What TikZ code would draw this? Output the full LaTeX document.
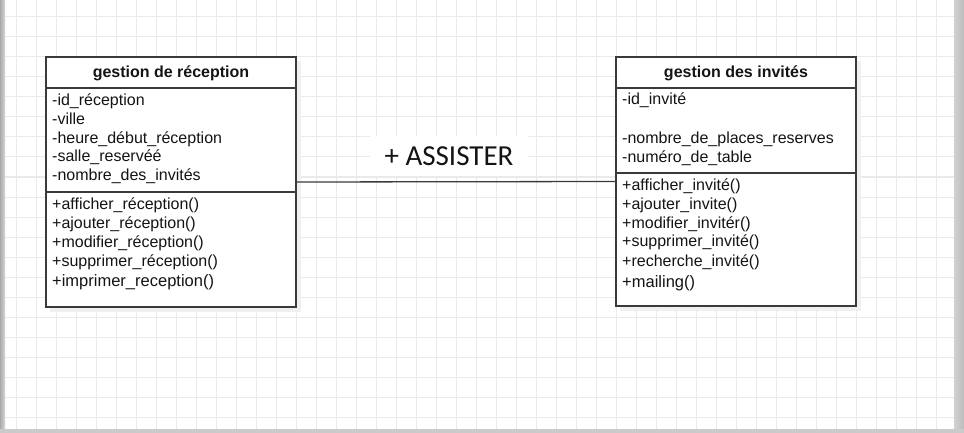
\documentclass[tikz,border=0pt]{standalone}
\usepackage{fontspec}
\setmainfont{Liberation Sans}
\newfontfamily\labfont{Carlito}
\definecolor{gridc}{HTML}{EAEAEA}
\definecolor{edgec}{HTML}{3A3A3A}
\definecolor{txtc}{HTML}{141414}
\definecolor{strip}{HTML}{BDBDBD}
\begin{document}
\begin{tikzpicture}[x=1pt,y=-1pt,
  gridline/.style={draw=gridc,line width=1pt},
  classbox/.style={draw=edgec,line width=1.5pt,fill=white,rectangle,inner sep=0pt},
  sepline/.style={draw=edgec,line width=1.3pt},
  member/.style={anchor=base west,inner sep=0pt,text=txtc,font=\fontsize{16}{18}\selectfont},
  bigmember/.style={member,font=\fontsize{16.5}{18}\selectfont},
  title/.style={anchor=base,inner sep=0pt,text=txtc,font=\fontsize{16}{18}\selectfont\bfseries},
  assoc/.style={draw=edgec,line width=1.3pt},
  shadowbox/.style={fill=black!6,draw=none}]
\useasboundingbox (0,0) rectangle (964,433);
\fill[white] (0,0) rectangle (964,433);
% grid
\foreach \i in {0,...,46} {\draw[gridline] (16.5+20*\i,0) -- (16.5+20*\i,433);}
\foreach \j in {0,...,20} {\draw[gridline] (0,17+20*\j) -- (964,17+20*\j);}
% window strips
\shade[left color=strip!90!black,right color=strip!60!white] (0,0) rectangle (5,433);
\shade[left color=strip!70!white,right color=strip] (954,0) rectangle (964,433);
\fill[strip!80!white] (0,429) rectangle (964,433);
% shadows
\fill[shadowbox] (50,61) rectangle (301,312);
\fill[shadowbox] (620,61) rectangle (861,311);
% class boxes
\node[classbox,minimum width=250pt,minimum height=250pt] (lbox) at (171,182) {};
\node[classbox,minimum width=240pt,minimum height=249pt] (rbox) at (736,181.5) {};
% compartments
\draw[sepline] (lbox.west |- 0,88) -- (lbox.east |- 0,88);
\draw[sepline] (lbox.west |- 0,192) -- (lbox.east |- 0,192);
\draw[sepline] (rbox.west |- 0,88) -- (rbox.east |- 0,88);
\draw[sepline] (rbox.west |- 0,173) -- (rbox.east |- 0,173);
% titles
\node[title] (ltitle) at (171,77.5) {gestion de réception};
\node[title] (rtitle) at (736,77.5) {gestion des invités};
% left members
\node[member] (la1) at (52,106) {-id\_réception};
\node[member] (la2) at (52,124.5) {-ville};
\node[member] (la3) at (52,143.3) {-heure\_début\_réception};
\node[member] (la4) at (52,162) {-salle\_reservéé};
\node[member] (la5) at (52,180.7) {-nombre\_des\_invités};
\node[member] (lm1) at (52,209) {+afficher\_réception()};
\node[member] (lm2) at (52,228) {+ajouter\_réception()};
\node[member] (lm3) at (52,247) {+modifier\_réception()};
\node[member] (lm4) at (52,266) {+supprimer\_réception()};
\node[bigmember] (lm5) at (52,286.7) {+imprimer\_reception()};
% right members
\node[member] (ra1) at (622,105) {-id\_invité};
\node[member] (ra2) at (622,143.3) {-nombre\_de\_places\_reserves};
\node[member] (ra3) at (622,162.3) {-numéro\_de\_table};
\node[member] (rm1) at (622,190) {+afficher\_invité()};
\node[member] (rm2) at (622,209.3) {+ajouter\_invite()};
\node[member] (rm3) at (622,228.3) {+modifier\_invitér()};
\node[member] (rm4) at (622,246.7) {+supprimer\_invité()};
\node[member] (rm5) at (622,266) {+recherche\_invité()};
\node[bigmember] (rm6) at (622,287.3) {+mailing()};
% association
\node[fill=white,inner sep=0pt,minimum width=158pt,minimum height=40pt,text=txtc,font=\labfont\fontsize{29}{30}\selectfont] (assist) at (449,156) {+ ASSISTER};
\draw[assoc] (lbox.east) -- (rbox.west);
\end{tikzpicture}
\end{document}
